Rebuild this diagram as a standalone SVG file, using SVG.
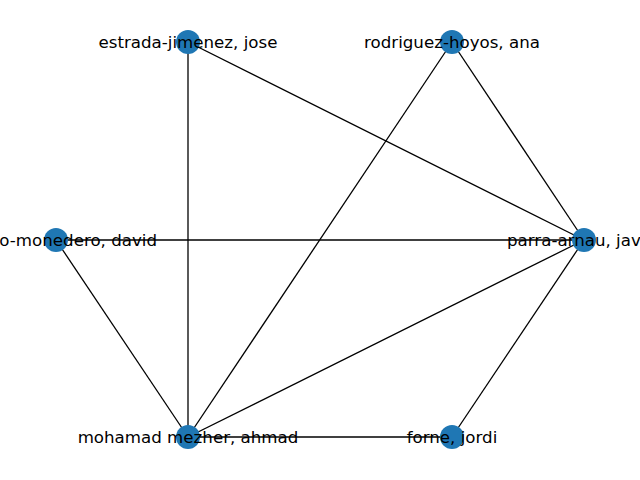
<svg xmlns="http://www.w3.org/2000/svg" width="640" height="480" viewBox="0 0 640 480">
<style>
.e{stroke:#000;stroke-width:1.3;fill:none}
.n{fill:#1f77b4}
text{font-family:"DejaVu Sans",sans-serif;font-size:16.67px;fill:#000;dominant-baseline:central}
</style>
<rect width="640" height="480" fill="#fff"/>
<g id="edges">
<line class="e" x1="188" y1="42" x2="188" y2="437"/>
<line class="e" x1="188" y1="42" x2="584" y2="240"/>
<line class="e" x1="452" y1="42" x2="188" y2="437"/>
<line class="e" x1="452" y1="42" x2="584" y2="240"/>
<line class="e" x1="56" y1="240" x2="584" y2="240"/>
<line class="e" x1="56" y1="240" x2="188" y2="437"/>
<line class="e" x1="188" y1="437" x2="584" y2="240"/>
<line class="e" x1="188" y1="437" x2="452" y2="437"/>
<line class="e" x1="584" y1="240" x2="452" y2="437"/>
</g>
<g id="estrada"><circle class="n" cx="188" cy="42" r="12"/><text x="188" y="42" text-anchor="middle">estrada-jimenez, jose</text></g>
<g id="rodriguez"><circle class="n" cx="452" cy="42" r="12"/><text x="452" y="42" text-anchor="middle">rodriguez-hoyos, ana</text></g>
<g id="monedero"><circle class="n" cx="56" cy="240" r="12"/><text x="157" y="240" text-anchor="end">o-monedero, david</text></g>
<g id="parra"><circle class="n" cx="584" cy="240" r="12"/><text x="507" y="240" text-anchor="start">parra-arnau, jav</text></g>
<g id="mohamad"><circle class="n" cx="188" cy="437" r="12"/><text x="188" y="437" text-anchor="middle">mohamad mezher, ahmad</text></g>
<g id="forne"><circle class="n" cx="452" cy="437" r="12"/><text x="452" y="437" text-anchor="middle">forne, jordi</text></g>
</svg>
